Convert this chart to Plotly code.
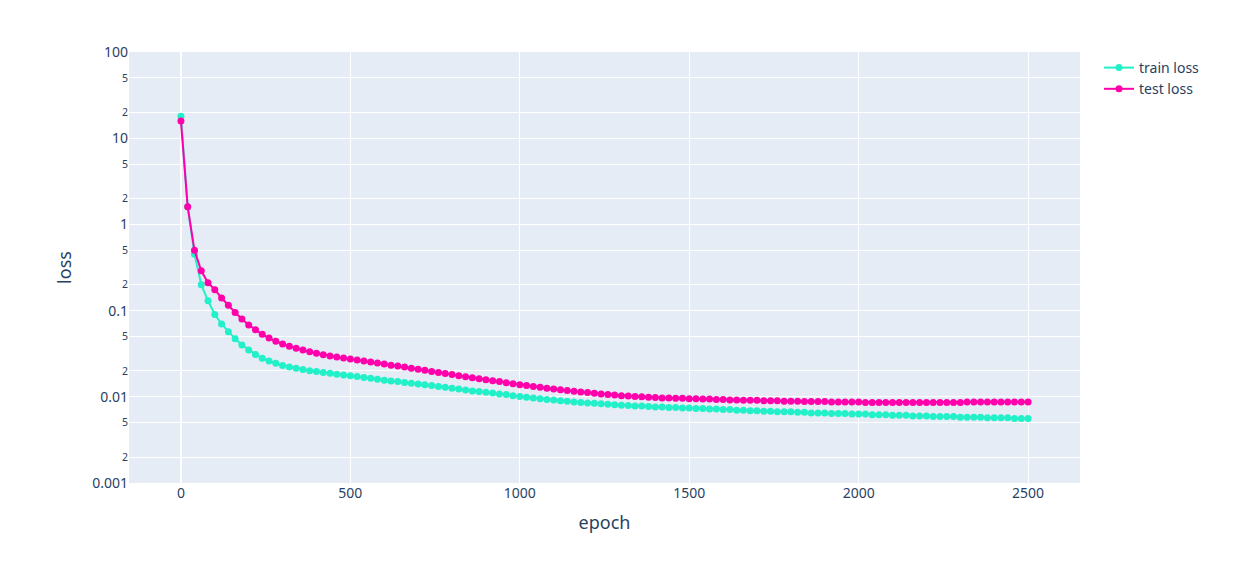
import plotly.graph_objects as go

epochs = list(range(0, 2501, 20))

train_loss = [18, 1.6, 0.45, 0.2, 0.13, 0.09, 0.07, 0.057, 0.047, 0.04, 0.035, 0.031, 0.028, 0.026, 0.0245, 0.023,
              0.0222, 0.0214, 0.0207, 0.0201, 0.0196, 0.0191, 0.0187, 0.0183, 0.0179, 0.0176,
              0.0172, 0.0168, 0.0164, 0.0160, 0.0156, 0.0153, 0.0150, 0.0147, 0.0144, 0.0141, 0.0138, 0.0135, 0.0132,
              0.0129, 0.0126, 0.0123, 0.0120, 0.0117, 0.0115, 0.0113, 0.0111, 0.0108, 0.0106, 0.0103, 0.0101,
              0.0099, 0.0097, 0.0095, 0.0093, 0.0092, 0.0090, 0.0089, 0.0087, 0.0086, 0.0085, 0.0084, 0.0083, 0.0082,
              0.0081, 0.0080, 0.0079, 0.0078, 0.0078, 0.0077, 0.0076, 0.0076, 0.0075, 0.0075, 0.0074, 0.0074,
              0.0073, 0.0073, 0.0072, 0.0072, 0.0071, 0.0071, 0.0070, 0.0070, 0.0069, 0.0069, 0.0068, 0.0068, 0.0067,
              0.0067, 0.0067, 0.0066, 0.0066, 0.0065, 0.0065, 0.0065, 0.0064, 0.0064, 0.0064, 0.0063, 0.0063,
              0.0063, 0.0062, 0.0062, 0.0062, 0.0061, 0.0061, 0.0061, 0.0060, 0.0060, 0.0060, 0.0059, 0.0059, 0.0059,
              0.0059, 0.0058, 0.0058, 0.0058, 0.0058, 0.0057, 0.0057, 0.0057, 0.0057, 0.0056, 0.0056, 0.0056]

test_loss = [15.8, 1.6, 0.5, 0.29, 0.21, 0.175, 0.14, 0.115, 0.095, 0.08, 0.068, 0.06, 0.053, 0.048, 0.044, 0.041,
             0.0385, 0.0365, 0.0348, 0.0333, 0.032, 0.0308, 0.0298, 0.0289, 0.0281, 0.0274,
             0.0268, 0.0261, 0.0254, 0.0247, 0.0240, 0.0233, 0.0227, 0.0221, 0.0215, 0.0209, 0.0203, 0.0197, 0.0191,
             0.0186, 0.0181, 0.0176, 0.0171, 0.0166, 0.0162, 0.0158, 0.0154, 0.0150, 0.0146, 0.0142, 0.0138,
             0.0135, 0.0132, 0.0129, 0.0126, 0.0123, 0.0121, 0.0118, 0.0116, 0.0114, 0.0112, 0.0110, 0.0108, 0.0106,
             0.0105, 0.0103, 0.0102, 0.0101, 0.0100, 0.0099, 0.0098, 0.0097, 0.0097, 0.0096, 0.0096, 0.0095,
             0.0095, 0.0094, 0.0094, 0.0093, 0.0093, 0.0092, 0.0092, 0.0091, 0.0091, 0.0091, 0.0090, 0.0090, 0.0090,
             0.0089, 0.0089, 0.0089, 0.0088, 0.0088, 0.0088, 0.0088, 0.0087, 0.0087, 0.0087, 0.0087, 0.0087,
             0.0086, 0.0086, 0.0086, 0.0086, 0.0086, 0.0086, 0.0086, 0.0086, 0.0086, 0.0086, 0.0086, 0.0086, 0.0086,
             0.0086, 0.0086, 0.0087, 0.0087, 0.0087, 0.0087, 0.0087, 0.0087, 0.0087, 0.0087, 0.0087, 0.0087]

fig = go.Figure()
fig.add_trace(go.Scatter(x=epochs, y=train_loss, mode="lines+markers", name="train loss",
                         line=dict(color="#22f0c8", width=2), marker=dict(size=7)))
fig.add_trace(go.Scatter(x=epochs, y=test_loss, mode="lines+markers", name="test loss",
                         line=dict(color="#ff00aa", width=2), marker=dict(size=7)))
fig.update_layout(
    template="plotly", width=1235, height=563,
    font=dict(family="Noto Sans", size=14),
    margin=dict(l=121, r=163, t=44, b=88),
    xaxis=dict(title=dict(text="epoch", font=dict(size=18))),
    yaxis=dict(title=dict(text="loss", font=dict(size=18)), type="log", range=[-3, 2], dtick="D2"),
)
fig.write_html("out.html")
